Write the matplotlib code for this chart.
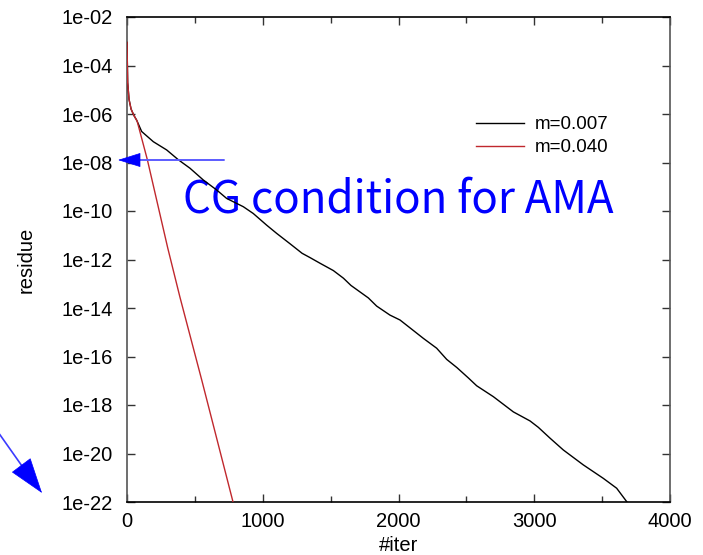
import math
import matplotlib
matplotlib.use("Agg")
import matplotlib.pyplot as plt
from matplotlib.ticker import FixedLocator, MultipleLocator, FuncFormatter

# CG residue history for two quark masses
iter_m007 = [0, 5, 15, 30, 50, 71, 108, 194, 292, 378, 464, 562, 660, 734,
             857, 930, 1029, 1102, 1200, 1290, 1348, 1422, 1520, 1594, 1650,
             1778, 1839, 1937, 2011, 2100, 2183, 2281, 2355, 2430, 2515, 2576,
             2699, 2846, 2969, 3030, 3116, 3214, 3361, 3508, 3607, 3683]
res_m007 = [8.9e-4, 2.0e-5, 4.0e-6, 1.6e-6, 8.9e-7, 5.6e-7, 1.9e-7, 7.2e-8,
            3.3e-8, 1.3e-8, 5.8e-9, 1.9e-9, 7.4e-10, 3.3e-10, 1.5e-10,
            7.9e-11, 2.6e-11, 1.2e-11, 4.5e-12, 1.8e-12, 1.2e-12, 7.0e-13,
            3.5e-13, 1.7e-13, 8.5e-14, 2.6e-14, 1.2e-14, 5.1e-15, 3.2e-15,
            1.3e-15, 5.6e-16, 2.2e-16, 7.6e-17, 3.5e-17, 1.3e-17, 6.2e-18,
            2.2e-18, 5.2e-19, 2.2e-19, 1.2e-19, 4.3e-20, 1.4e-20, 3.4e-21,
            9.5e-22, 3.7e-22, 1.0e-22]

iter_m040 = [0, 5, 15, 30, 50, 75, 150, 300, 390, 550, 781]
res_m040 = [8.9e-4, 2.0e-5, 4.0e-6, 1.6e-6, 8.9e-7, 5.0e-7, 1.3e-8, 3.0e-12,
            2.8e-14, 1.1e-17, 1.0e-22]

labels = ["m=0.007", "m=0.040"]
y_ticks = [1e-22, 1e-20, 1e-18, 1e-16, 1e-14, 1e-12, 1e-10, 1e-8, 1e-6, 1e-4, 1e-2]
x_ticks = [0, 1000, 2000, 3000, 4000]

plt.rcParams["font.family"] = ["Liberation Sans", "DejaVu Sans"]

fig = plt.figure(figsize=(7.03, 5.55), dpi=100)
ax = fig.add_axes([127 / 703, 53 / 555, 543 / 703, 485 / 555])

ax.plot(iter_m007, res_m007, color="black", lw=1.0, label=labels[0], zorder=3)
ax.plot(iter_m040, res_m040, color="#c0282d", lw=1.0, label=labels[1], zorder=3)

ax.set_yscale("log")
ax.set_ylim(1e-22, 1e-2)
ax.set_xlim(0, 4000)
ax.yaxis.set_major_locator(FixedLocator(y_ticks))
ax.yaxis.set_minor_locator(FixedLocator([]))
ax.yaxis.set_major_formatter(FuncFormatter(lambda v, p: "1e-%02d" % round(-math.log10(v))))
ax.xaxis.set_major_locator(FixedLocator(x_ticks))
ax.xaxis.set_minor_locator(MultipleLocator(500))

ax.tick_params(axis="both", which="both", direction="in", top=True, right=True,
               labelsize=14.5, color="#333333")
ax.tick_params(axis="both", which="major", length=6, width=1)
ax.tick_params(axis="x", which="minor", length=4, width=1)
ax.tick_params(axis="y", which="major", pad=10)
ax.tick_params(axis="x", which="major", pad=7)

for side in ("left", "right"):
    ax.spines[side].set_color("#555555")
    ax.spines[side].set_linewidth(1.2)
for side in ("top", "bottom"):
    ax.spines[side].set_color("black")
    ax.spines[side].set_linewidth(1.2)

ax.set_xlabel("#iter", fontsize=14.5, labelpad=4)
ax.set_ylabel("residue", fontsize=14.5, labelpad=19)

fig.legend(loc="upper right", bbox_to_anchor=(609 / 703, 1 - 116 / 555),
           frameon=False, fontsize=13.5, handlelength=2.55, handletextpad=0.6,
           labelspacing=0.32, borderpad=0, borderaxespad=0)

# annotation text
ax.text(0.103, 0.596, "CG condition for AMA", transform=ax.transAxes,
        fontsize=31.6, color="#0000ff", family=["Noto Sans CJK JP", "DejaVu Sans"],
        va="baseline", ha="left", zorder=1)

# arrow pointing at the residue threshold on the y axis
y_pix = 555 - 160
ax.annotate("", xy=(139, y_pix), xytext=(224, y_pix), xycoords="figure pixels",
            textcoords="figure pixels", annotation_clip=False,
            arrowprops=dict(arrowstyle="-", color="#5c5cff", lw=1.4,
                            shrinkA=0, shrinkB=0))
ax.annotate("", xy=(118, y_pix), xytext=(140, y_pix), xycoords="figure pixels",
            textcoords="figure pixels", annotation_clip=False,
            arrowprops=dict(arrowstyle="-|>,head_length=15,head_width=4.7",
                            mutation_scale=1, color="#0000ff", lw=0.5,
                            shrinkA=0, shrinkB=0))

# arrow pointing at the lower left corner
ax.annotate("", xy=(22, 555 - 466), xytext=(-2, 555 - 432), xycoords="figure pixels",
            textcoords="figure pixels", annotation_clip=False,
            arrowprops=dict(arrowstyle="-", color="#3b3bff", lw=1.2,
                            shrinkA=0, shrinkB=0))
ax.annotate("", xy=(42, 555 - 493), xytext=(21, 555 - 465), xycoords="figure pixels",
            textcoords="figure pixels", annotation_clip=False,
            arrowprops=dict(arrowstyle="-|>,head_length=24,head_width=8",
                            mutation_scale=1, color="#0000ff", lw=0.5,
                            shrinkA=0, shrinkB=0))

fig.savefig("out.png", dpi=100)
